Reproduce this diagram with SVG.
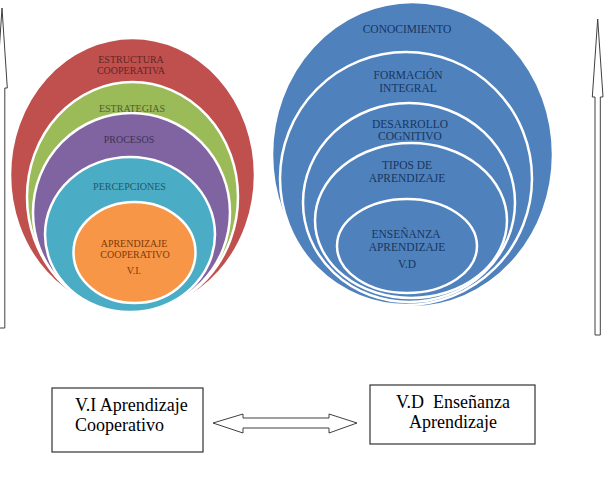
<svg xmlns="http://www.w3.org/2000/svg" width="606" height="484" viewBox="0 0 606 484">
<style>
.c{stroke:#fff;stroke-width:2.5}
.t{font-family:"Liberation Serif","Times New Roman",serif;font-size:10px;text-anchor:middle}
.tb{font-family:"Liberation Serif","Times New Roman",serif;font-size:11.5px;text-anchor:middle;fill:#17365d}
.box{fill:#fff;stroke:#333;stroke-width:1.2}
.lbl{font-family:"Liberation Serif","Times New Roman",serif;font-size:18px;fill:#000}
.arr{fill:#fff;stroke:#404040;stroke-width:1}
</style>
<rect width="606" height="484" fill="#fff"/>
<g id="left-stack">
<ellipse class="c" cx="132.5" cy="175" rx="122.5" ry="137" fill="#c0504d"/>
<ellipse class="c" cx="132.5" cy="197" rx="105.5" ry="115" fill="#9bbb59"/>
<ellipse class="c" cx="131.5" cy="212.5" rx="98.5" ry="99.5" fill="#8064a2"/>
<ellipse class="c" cx="130" cy="234.5" rx="85" ry="77.5" fill="#4bacc6"/>
<ellipse class="c" cx="134.5" cy="252.5" rx="61" ry="50.5" fill="#f79646"/>
<text class="t" x="131" y="63" fill="#632523">ESTRUCTURA</text>
<text class="t" x="131" y="74" fill="#632523">COOPERATIVA</text>
<text class="t" x="132" y="112" fill="#4f6228">ESTRATEGIAS</text>
<text class="t" x="129" y="143" fill="#3f3151">PROCESOS</text>
<text class="t" x="129.5" y="190" fill="#215968">PERCEPCIONES</text>
<text class="t" x="134" y="247" fill="#7f3a06">APRENDIZAJE</text>
<text class="t" x="135" y="258" fill="#7f3a06">COOPERATIVO</text>
<text class="t" x="134" y="274" fill="#7f3a06">V.I.</text>
</g>
<g id="right-stack">
<ellipse class="c" cx="412.5" cy="154.5" rx="140.5" ry="152.5" fill="#4f81bd"/>
<ellipse class="c" cx="406" cy="178.5" rx="126" ry="126.5" fill="#4f81bd"/>
<ellipse class="c" cx="409" cy="202.5" rx="106" ry="99.5" fill="#4f81bd"/>
<ellipse class="c" cx="411" cy="220.5" rx="96" ry="77.5" fill="#4f81bd"/>
<ellipse class="c" cx="407" cy="246" rx="70" ry="47" fill="#4f81bd"/>
<text class="tb" x="407" y="33">CONOCIMIENTO</text>
<text class="tb" x="408" y="79">FORMACIÓN</text>
<text class="tb" x="408" y="92">INTEGRAL</text>
<text class="tb" x="410" y="128">DESARROLLO</text>
<text class="tb" x="410" y="140">COGNITIVO</text>
<text class="tb" x="407" y="169">TIPOS DE</text>
<text class="tb" x="407" y="182">APRENDIZAJE</text>
<text class="tb" x="406" y="238">ENSEÑANZA</text>
<text class="tb" x="407" y="251">APRENDIZAJE</text>
<text class="tb" x="407" y="268">V.D</text>
</g>
<g id="box-vi">
<rect class="box" x="52" y="388" width="151" height="64"/>
<text class="lbl" x="75" y="411">V.I Aprendizaje</text>
<text class="lbl" x="75" y="431">Cooperativo</text>
</g>
<g id="box-vd">
<rect class="box" x="370" y="385" width="165" height="59"/>
<text class="lbl" x="453" y="408" text-anchor="middle" xml:space="preserve">V.D  Enseñanza</text>
<text class="lbl" x="453" y="428" text-anchor="middle">Aprendizaje</text>
</g>
<g id="connectors">
<path class="arr" d="M2,8 L7.3,88 L4.8,88 L4.8,328 L-0.8,328 L-0.8,88 L-3.3,88 Z"/>
<path class="arr" d="M597.7,19 L603,97 L600.3,97 L600.3,335 L595,335 L595,97 L592.3,97 Z"/>
<path class="arr" d="M213,423 L243,414 L243,418 L329,418 L329,414 L357,423 L329,433 L329,428 L243,428 L243,433 Z"/>
</g>
</svg>
